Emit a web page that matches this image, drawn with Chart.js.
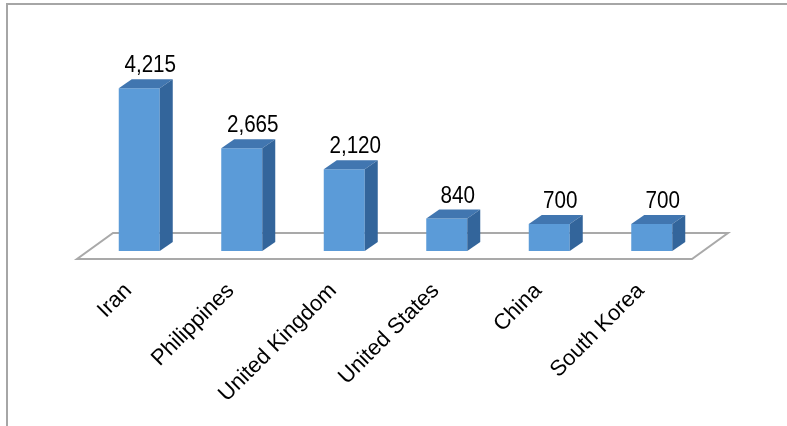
<!DOCTYPE html>
<html>
<head>
<meta charset="utf-8">
<script src="https://cdn.jsdelivr.net/npm/chart.js@4.4.1/dist/chart.umd.min.js"></script>
<style>
html,body{margin:0;padding:0;background:#fff;}
#wrap{width:787px;height:426px;position:relative;}
</style>
</head>
<body>
<div id="wrap"><canvas id="c" width="787" height="426"></canvas></div>
<script>
const categories = ["Iran", "Philippines", "United Kingdom", "United States", "China", "South Korea"];
const values = [4215, 2665, 2120, 840, 700, 700];
const valueLabels = ["4,215", "2,665", "2,120", "840", "700", "700"];

// detect narrow font
function hasFont(name){
  const cv=document.createElement('canvas').getContext('2d');
  cv.font='40px monospace'; const a=cv.measureText('abcdefghij0123456789').width;
  cv.font='40px "'+name+'", monospace'; const b=cv.measureText('abcdefghij0123456789').width;
  return Math.abs(a-b)>0.5;
}
const narrow = hasFont('Liberation Sans Narrow');

const DX = 13, DY = -9;

const frame = {
  id:'frame',
  beforeDraw(chart){
    const ctx=chart.ctx;
    ctx.save();
    ctx.fillStyle='#a6a6a6';
    ctx.fillRect(6,3,787,2);
    ctx.fillRect(6,3,2,426);
    ctx.restore();
  }
};

const floor3d = {
  id:'floor3d',
  beforeDatasetsDraw(chart){
    const {ctx, chartArea:a, scales:{y}} = chart;
    const z = y.getPixelForValue(0);
    ctx.save();
    ctx.beginPath();
    ctx.moveTo(a.left-11, z+8);
    ctx.lineTo(a.right-11, z+8);
    ctx.lineTo(a.right+25, z-18);
    ctx.lineTo(a.left+25, z-18);
    ctx.closePath();
    ctx.fillStyle='#ffffff';
    ctx.fill();
    ctx.lineWidth=2;
    ctx.strokeStyle='#a9a9a9';
    ctx.stroke();
    ctx.restore();
  }
};

const bars3d = {
  id:'bars3d',
  afterDatasetsDraw(chart){
    const ctx=chart.ctx;
    const meta=chart.getDatasetMeta(0);
    ctx.save();
    meta.data.forEach((bar,i)=>{
      const w=bar.width, l=bar.x-w/2, r=bar.x+w/2, t=bar.y, b=bar.base;
      // top
      ctx.beginPath();
      ctx.moveTo(l,t); ctx.lineTo(r,t); ctx.lineTo(r+DX,t+DY); ctx.lineTo(l+DX,t+DY); ctx.closePath();
      ctx.fillStyle='#4176b0'; ctx.fill();
      // side
      ctx.beginPath();
      ctx.moveTo(r,t); ctx.lineTo(r+DX,t+DY); ctx.lineTo(r+DX,b+DY); ctx.lineTo(r,b); ctx.closePath();
      ctx.fillStyle='#33659b'; ctx.fill();
      // label
      ctx.fillStyle='#000';
      ctx.textAlign='center';
      ctx.textBaseline='alphabetic';
      const lx=bar.x+DX-2, ly=t+DY-7;
      if(narrow){
        ctx.font='25px "Liberation Sans Narrow"';
        ctx.fillText(valueLabels[i], lx, ly);
      } else {
        ctx.font='24px "Liberation Sans"';
        ctx.save(); ctx.translate(lx,ly); ctx.scale(0.86,1);
        ctx.fillText(valueLabels[i],0,0); ctx.restore();
      }
    });
    ctx.restore();
  }
};

new Chart(document.getElementById('c'), {
  type:'bar',
  data:{
    labels:categories,
    datasets:[{
      data:values,
      backgroundColor:'#5b9bd8',
      borderWidth:0,
      barPercentage:0.8,
      categoryPercentage:0.5
    }]
  },
  options:{
    responsive:false,
    animation:false,
    devicePixelRatio:1,
    layout:{padding:{left:88,right:84,top:58,bottom:0}},
    plugins:{legend:{display:false},tooltip:{enabled:false}},
    scales:{
      y:{display:false,min:0,max:5000},
      x:{
        grid:{display:false},
        border:{display:false},
        ticks:{
          color:'#000',
          font:{family:'"Liberation Sans", Arial, sans-serif',size:22},
          minRotation:45,maxRotation:45,
          padding:19,
          labelOffset:-11,
          autoSkip:false
        },
        afterFit(scale){ scale.height=175; }
      }
    }
  },
  plugins:[frame,floor3d,bars3d]
});
</script>
</body>
</html>
